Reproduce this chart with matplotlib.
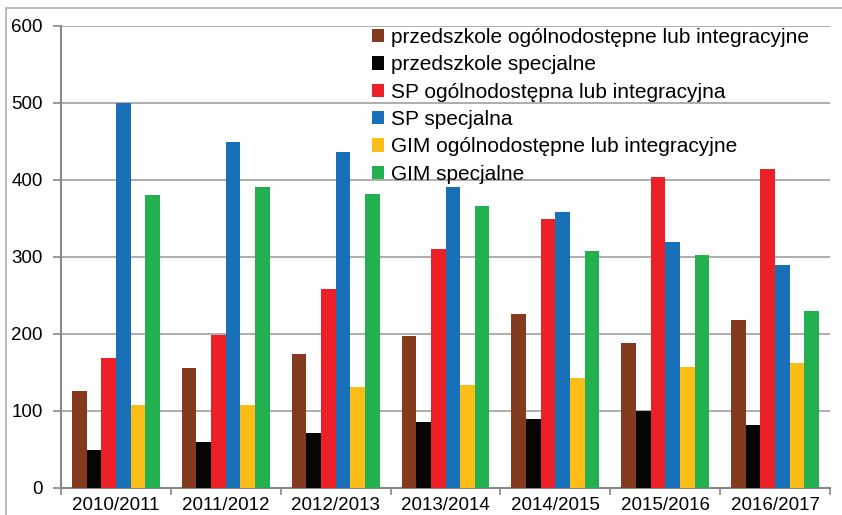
import numpy as np
import matplotlib.pyplot as plt
from matplotlib.patches import Rectangle

plt.rcParams['font.family'] = ['Liberation Sans', 'DejaVu Sans']

years = ["2010/2011", "2011/2012", "2012/2013", "2013/2014",
         "2014/2015", "2015/2016", "2016/2017"]

przedszkole_ogolne = [126, 156, 174, 197, 225, 188, 218]
przedszkole_spec = [49, 59, 71, 85, 89, 100, 81]
sp_ogolna = [168, 198, 258, 310, 349, 404, 414]
sp_spec = [499, 449, 436, 390, 358, 319, 289]
gim_ogolne = [108, 107, 131, 133, 143, 157, 162]
gim_spec = [380, 391, 382, 366, 307, 302, 229]

labels = ["przedszkole ogólnodostępne lub integracyjne",
          "przedszkole specjalne",
          "SP ogólnodostępna lub integracyjna",
          "SP specjalna",
          "GIM ogólnodostępne lub integracyjne",
          "GIM specjalne"]
colors = ["#843a1d", "#080604", "#ed2027", "#1770b8", "#fcbe16", "#23b04f"]
series = [przedszkole_ogolne, przedszkole_spec, sp_ogolna,
          sp_spec, gim_ogolne, gim_spec]

fig = plt.figure(figsize=(8.42, 5.15), dpi=100)
ax = fig.add_axes([61 / 842, (515 - 487.7) / 515, 769 / 842, 462 / 515])

x = np.arange(len(years))
width = 0.8 / len(series)
for i, (vals, lab, col) in enumerate(zip(series, labels, colors)):
    ax.bar(x - 0.4 + width * (i + 0.5), vals, width, color=col, label=lab,
           zorder=3)

ax.set_xlim(-0.5, len(years) - 0.5)
ax.set_ylim(0, 600)
ax.set_yticks(range(0, 601, 100))
ax.set_xticks(x)
ax.set_xticklabels(years)
ax.set_xticks(np.arange(-0.5, len(years), 1), minor=True)

ax.grid(axis="y", color="#a0a0a0", linewidth=1.2, zorder=0)
ax.tick_params(axis="x", which="major", length=0, labelsize=13.5, pad=7)
ax.tick_params(axis="x", which="minor", length=5, color="#888888", width=1.2)
ax.tick_params(axis="y", length=6, color="#888888", width=1.2, labelsize=13.5,
               pad=7)
for s in ["top", "right"]:
    ax.spines[s].set_visible(False)
for s in ["left", "bottom"]:
    ax.spines[s].set_color("#888888")
    ax.spines[s].set_linewidth(1.5)

ax.legend(loc="upper left", bbox_to_anchor=(0.404, 0.995), frameon=False,
          fontsize=15, handlelength=0.6, handleheight=0.6, handletextpad=0.35,
          labelspacing=0.4, borderaxespad=0, borderpad=0)

fig.patches.append(Rectangle((6 / 842, -0.1), 1.2, 1.1 - 8 / 515,
                             transform=fig.transFigure, fill=False,
                             edgecolor="#b0b0b0", linewidth=1.2))

fig.savefig("out.png", dpi=100)
